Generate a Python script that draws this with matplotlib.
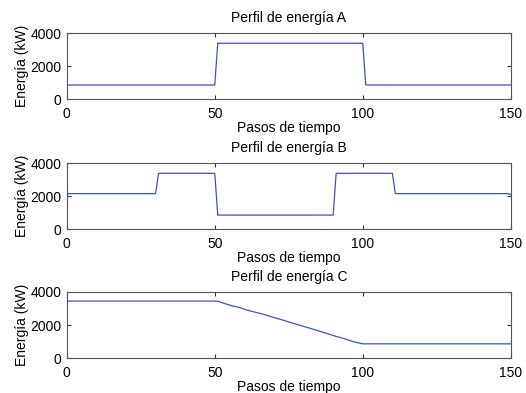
import numpy as np
import matplotlib.pyplot as plt

plt.rcParams['font.family'] = ['Liberation Sans', 'DejaVu Sans']

# Perfil A
xa = [0, 50, 51, 100, 101, 150]
ya = [850, 850, 3380, 3380, 850, 850]

# Perfil B
xb = [0, 30, 31, 50, 51, 90, 91, 110, 111, 149, 150]
yb = [2150, 2150, 3380, 3380, 850, 850, 3380, 3380, 2150, 2150, 2100]

# Perfil C
xc = [0, 50, 51, 53, 56, 58, 61, 64, 67, 70, 73, 76, 79, 82, 85, 88, 91, 94, 97, 100, 150]
yc = [3450, 3450, 3440, 3320, 3150, 3080, 2900, 2760, 2620, 2450, 2300, 2130, 1970, 1810, 1650, 1480, 1310, 1160, 980, 860, 860]

titles = ["Perfil de energía A", "Perfil de energía B", "Perfil de energía C"]
series = [(xa, ya), (xb, yb), (xc, yc)]

fig = plt.figure(figsize=(5.26, 3.93), dpi=100)
bottoms = [0.748, 0.417, 0.089]
color = '#3d52c4'

for (x, y), t, b in zip(series, titles, bottoms):
    ax = fig.add_axes([0.127, b, 0.844, 0.168])
    ax.plot(x, y, color=color, lw=0.9)
    ax.set_xlim(0, 150)
    ax.set_ylim(0, 4000)
    ax.set_xticks([0, 50, 100, 150])
    ax.set_yticks([0, 2000, 4000])
    ax.tick_params(direction='in', top=True, right=True, labelsize=10,
                   length=3, width=0.8, color='#333333')
    ax.tick_params(axis='x', pad=6)
    ax.tick_params(axis='y', pad=4)
    for s in ax.spines.values():
        s.set_color('#555555')
        s.set_linewidth(0.8)
    ax.set_title(t, fontsize=10, pad=8)
    ax.set_xlabel("Pasos de tiempo", fontsize=10, labelpad=0)
    ax.set_ylabel("Energía (kW)", fontsize=10, labelpad=1)

fig.savefig("out.png", dpi=100)
